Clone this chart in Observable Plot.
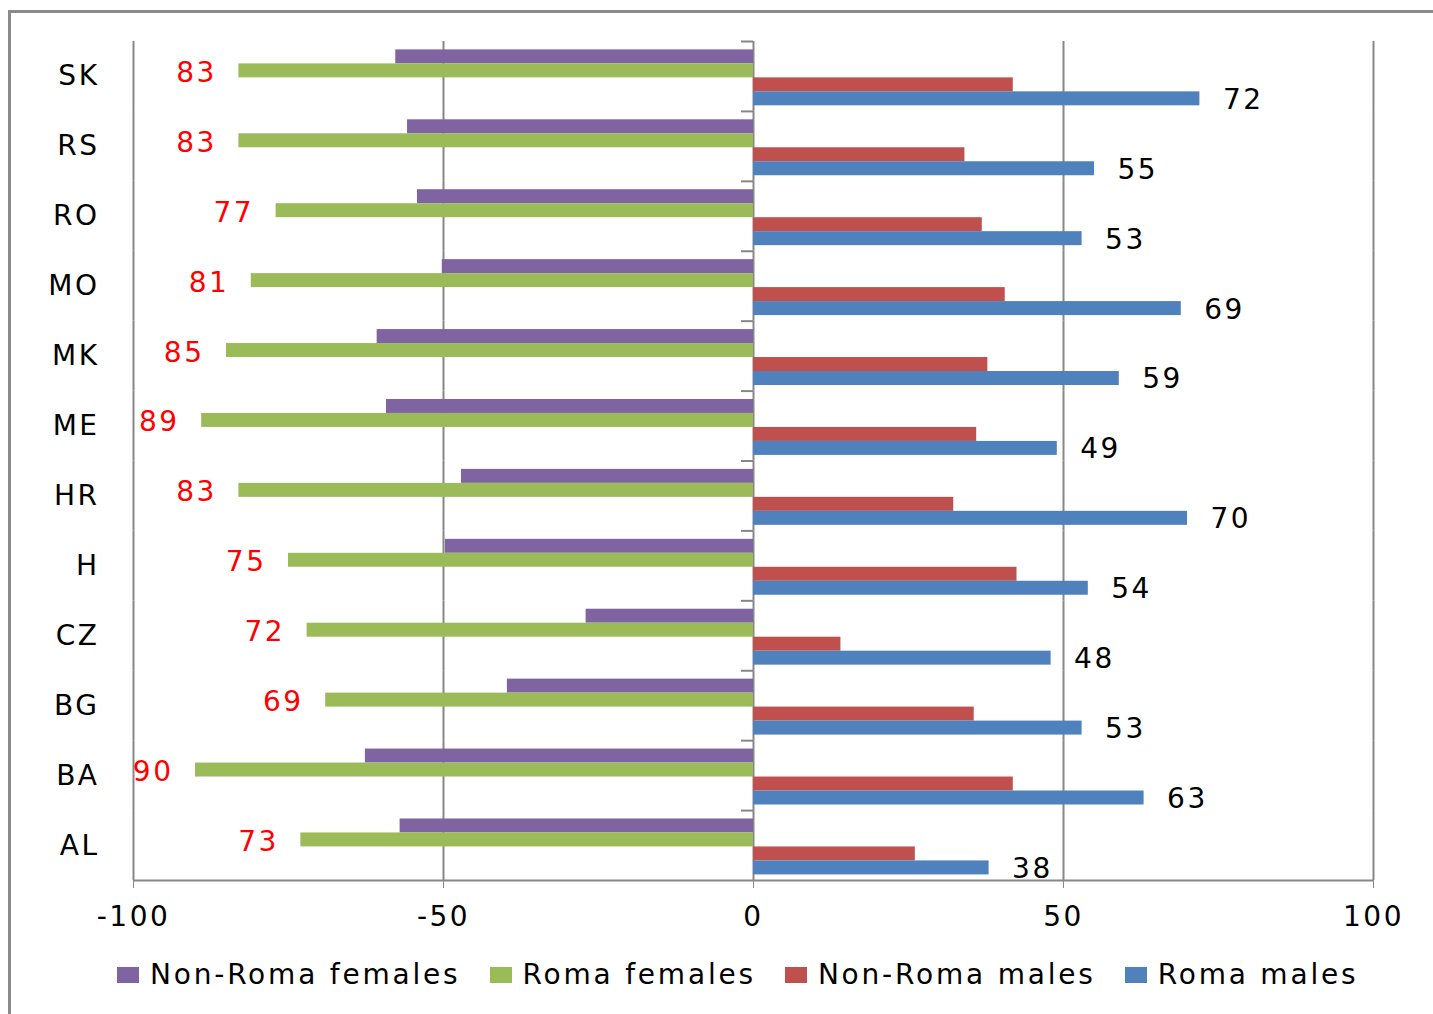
<!DOCTYPE html>
<html>
<head>
<meta charset="utf-8">
<script src="https://cdn.jsdelivr.net/npm/d3@7"></script>
<script src="https://cdn.jsdelivr.net/npm/@observablehq/plot@0.6"></script>
<style>
  html, body { margin: 0; padding: 0; background: #fff; }
  body { width: 1433px; height: 1014px; position: relative; overflow: hidden; font-family: "DejaVu Sans", Verdana, sans-serif; }
  #frame { position: absolute; left: 8px; top: 10px; width: 1500px; height: 1100px; border-left: 3px solid #8a8a8a; border-top: 3px solid #8a8a8a; }
  #chart { position: absolute; left: 0; top: 0; }
  #chart g[aria-label="x-axis tick"] { color: #878787; }
  #legend { position: absolute; left: 117px; top: 960px; display: flex; align-items: center; font-size: 28px; letter-spacing: 2.8px; line-height: 30px; color: #000; }
  .item { display: flex; align-items: center; margin-right: 29px; }
  .sw { width: 22px; height: 16px; margin-right: 11px; }
</style>
</head>
<body>
<div id="frame"></div>
<div id="chart"></div>
<div id="legend"></div>
<script>
const countries = ["SK", "RS", "RO", "MO", "MK", "ME", "HR", "H", "CZ", "BG", "BA", "AL"];
const series = ["Non-Roma females", "Roma females", "Non-Roma males", "Roma males"];
const colors = ["#8064A2", "#9BBB59", "#C0504D", "#4F81BD"];
const nonRomaFemales = [57.7, 55.8, 54.2, 50.2, 60.7, 59.2, 47.1, 49.7, 27.0, 39.7, 62.6, 57.0];
const romaFemales = [83, 83, 77, 81, 85, 89, 83, 75, 72, 69, 90, 73];
const nonRomaMales = [41.9, 34.1, 36.9, 40.6, 37.8, 36.0, 32.3, 42.5, 14.1, 35.6, 41.9, 26.1];
const romaMales = [72, 55, 53, 69, 59, 49, 70, 54, 48, 53, 63, 38];
const xTicks = [-100, -50, 0, 50, 100];

const rows = countries.flatMap((c, i) => [
  {country: c, series: series[0], value: -nonRomaFemales[i]},
  {country: c, series: series[1], value: -romaFemales[i], label: romaFemales[i]},
  {country: c, series: series[2], value: nonRomaMales[i]},
  {country: c, series: series[3], value: romaMales[i], label: romaMales[i]}
]);
const gridColor = "#878787";

const H = 950, MT = 41, MB = 70;
const align = 0.6;
const facetH = (H - MT - MB) / countries.length;
const step = facetH / (series.length + 1);
const topPad = step * align;           // outer padding above first bar
const firstCenter = topPad + step / 2;
const lastCenter = topPad + step * (series.length - 0.5);

const chart = Plot.plot({
  width: 1433,
  height: H,
  marginLeft: 133,
  marginRight: 60,
  marginTop: MT,
  marginBottom: MB,
  style: {fontFamily: "DejaVu Sans, Verdana, sans-serif", fontSize: "28px", letterSpacing: "2.5px", background: "transparent", color: "#000"},
  x: {domain: [-100, 100], ticks: xTicks, tickSize: 8, tickPadding: 18, tickFormat: d => String(d), label: null},
  y: {domain: series, paddingInner: 0, paddingOuter: 0.5, align, round: false, axis: null},
  fy: {domain: countries, padding: 0, round: false, label: null, tickSize: 0, tickPadding: 34},
  color: {domain: series, range: colors},
  marks: [
    Plot.ruleX(xTicks, {stroke: gridColor, strokeWidth: 2}),
    Plot.barX(rows, {fy: "country", y: "series", x: "value", fill: "series"}),
    // category boundary ticks on the zero axis
    Plot.ruleY(countries.map(c => ({country: c, series: series[0]})), {fy: "country", y: "series", x1: 0, x2: 0, insetLeft: -12, dy: -firstCenter, stroke: gridColor, strokeWidth: 2}),
    // bottom axis line
    Plot.ruleY([{country: countries[countries.length - 1], series: series[3]}], {fy: "country", y: "series", dy: facetH - lastCenter, stroke: gridColor, strokeWidth: 2}),
    Plot.text(rows.filter(d => d.series === series[1]), {fy: "country", y: "series", x: "value", text: "label", textAnchor: "end", dx: -22, dy: 2, fill: "#FF0000"}),
    Plot.text(rows.filter(d => d.series === series[3]), {fy: "country", y: "series", x: "value", text: "label", textAnchor: "start", dx: 23, dy: 1, fill: "#000"})
  ]
});
document.getElementById("chart").appendChild(chart);

const legend = document.getElementById("legend");
series.forEach((s, i) => {
  const item = document.createElement("div");
  item.className = "item";
  const sw = document.createElement("div");
  sw.className = "sw";
  sw.style.background = colors[i];
  const t = document.createElement("span");
  t.textContent = s;
  item.appendChild(sw);
  item.appendChild(t);
  legend.appendChild(item);
});
</script>
</body>
</html>
